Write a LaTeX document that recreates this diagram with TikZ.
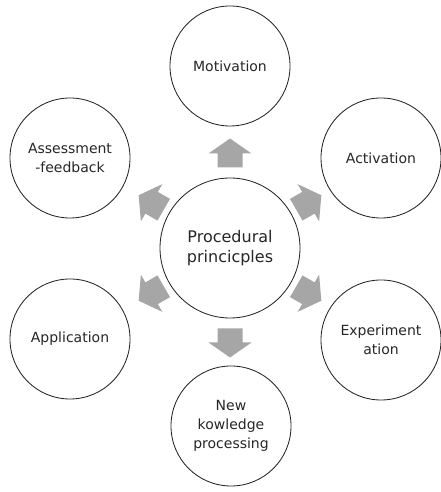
\documentclass[tikz,border=0pt]{standalone}
\usepackage{fontspec}
\setmainfont{DejaVu Sans}
\definecolor{arrowgray}{HTML}{A6A6A6}
\definecolor{linegray}{HTML}{262626}
\tikzset{
  outer/.style={circle, draw=linegray, line width=0.85pt, minimum size=120pt, inner sep=0pt, align=center,
    font=\fontsize{14}{19}\selectfont, text=black!85},
  inner/.style={circle, draw=linegray, line width=0.85pt, minimum size=140pt, inner sep=0pt, align=center,
    font=\fontsize{16}{19.5}\selectfont, text=black!85},
  pics/blockarrow/.style={code={
    \fill[arrowgray] (14.5pt,0) -- (-0.5pt,21.5pt) -- (-0.5pt,12.5pt) -- (-14.5pt,12.5pt)
      -- (-14.5pt,-12.5pt) -- (-0.5pt,-12.5pt) -- (-0.5pt,-21.5pt) -- cycle;
  }}
}
\begin{document}
\begin{tikzpicture}[x=1pt,y=1pt]
\useasboundingbox (0,0) rectangle (441,492);
\node[inner] (c) at (230,244) {Procedural\\princicples};
\node[outer] (mot) at (230,426) {Motivation};
\node[outer] (act) at (381,334) {Activation};
\node[outer] (exp) at (381,152) {Experiment\\ation};
\node[outer] (new) at (231,66) {New\\kowledge\\processing};
\node[outer] (app) at (70,153) {Application};
\node[outer] (ass) at (70,334) {Assessment\\-feedback};
\path (c.center) ++(90:95) pic[rotate=90] {blockarrow};
\path (c.center) ++(-90:95) pic[rotate=-90] {blockarrow};
\path (c.center) ++(30:91) pic[rotate=30] {blockarrow};
\path (c.center) ++(-30:91) pic[rotate=-30] {blockarrow};
\path (c.center) ++(150:91) pic[rotate=150] {blockarrow};
\path (c.center) ++(-150:91) pic[rotate=-150] {blockarrow};
\end{tikzpicture}
\end{document}
